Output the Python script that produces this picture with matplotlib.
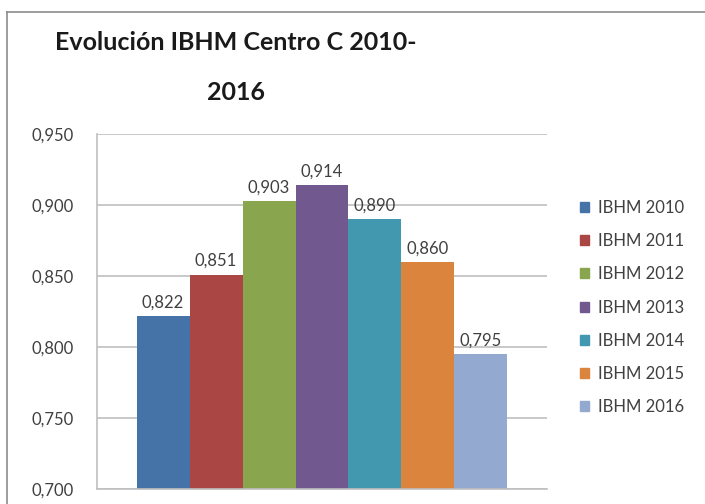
import matplotlib
matplotlib.use("Agg")
import matplotlib.pyplot as plt
from matplotlib.patches import Patch
from matplotlib.lines import Line2D

plt.rcParams["font.family"] = ["Lato", "DejaVu Sans"]

series = ["IBHM 2010", "IBHM 2011", "IBHM 2012", "IBHM 2013",
          "IBHM 2014", "IBHM 2015", "IBHM 2016"]
values = [0.822, 0.851, 0.903, 0.914, 0.890, 0.860, 0.795]
colors = ["#4572A7", "#AA4643", "#89A54E", "#71588F",
          "#4198AF", "#DB843D", "#93A9CF"]
yticks = [0.700, 0.750, 0.800, 0.850, 0.900, 0.950]
title_lines = ["Evolución IBHM Centro C 2010-", "2016"]


def comma(v):
    return f"{v:.3f}".replace(".", ",")


fig = plt.figure(figsize=(7.05, 5.04), dpi=100)

# outer chart frame (only left and top edges are visible in the crop)
fig.add_artist(Line2D([7 / 705, 7 / 705], [0, 1 - 12 / 504],
                      transform=fig.transFigure, color="#8c8c8c", lw=1.2))
fig.add_artist(Line2D([7 / 705, 1], [1 - 12 / 504, 1 - 12 / 504],
                      transform=fig.transFigure, color="#8c8c8c", lw=1.2))

ax = fig.add_axes([97 / 705, 1 - 489 / 504, 450 / 705, 355 / 504])

n = len(values)
w = 0.824 / n
for i, (lab, v, c) in enumerate(zip(series, values, colors)):
    x = (i - (n - 1) / 2) * w
    ax.bar(x, v, width=w, color=c, label=lab, zorder=2)
    ax.annotate(comma(v), (x, v), xytext=(0, 4), textcoords="offset points",
                ha="center", va="bottom", fontsize=12, color="#404040")

ax.set_xlim(-0.5, 0.5)
ax.set_ylim(0.700, 0.950)
ax.set_yticks(yticks)
ax.set_yticklabels([comma(t) for t in yticks], fontsize=12, color="#404040")
ax.set_xticks([])
ax.yaxis.grid(True, color="#bfbfbf", lw=1.2, zorder=0)
ax.tick_params(axis="y", length=0, pad=17)
for side in ["top", "right"]:
    ax.spines[side].set_visible(False)
ax.spines["left"].set_color("#bfbfbf")
ax.spines["bottom"].set_color("#bfbfbf")
ax.spines["left"].set_linewidth(1.2)
ax.spines["bottom"].set_linewidth(1.2)

handles = [Patch(color=c, label=s) for s, c in zip(series, colors)]
fig.legend(handles=handles, loc="center left",
           bbox_to_anchor=(580 / 705, 1 - 307.5 / 504),
           frameon=False, fontsize=12, labelcolor="#404040",
           handlelength=0.55, handleheight=0.55, handletextpad=0.55,
           labelspacing=1.03, borderpad=0, borderaxespad=0)

fig.text(236 / 705, 1 - 42 / 504, title_lines[0], ha="center", va="center",
         fontsize=18, fontweight="bold", color="#1a1a1a")
fig.text(236 / 705, 1 - 93 / 504, title_lines[1], ha="center", va="center",
         fontsize=18, fontweight="bold", color="#1a1a1a")

fig.savefig("out.png", dpi=100)
